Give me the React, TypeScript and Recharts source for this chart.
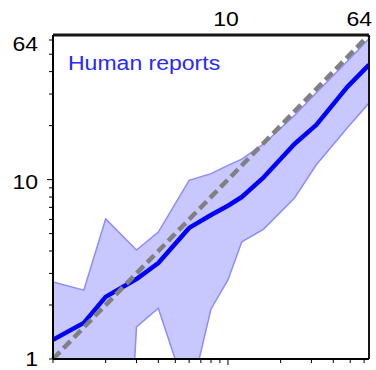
import React from 'react';
import { ComposedChart, Area, Line, XAxis, YAxis, ReferenceLine } from 'recharts';

const xs = [1, 1.5, 2, 3, 4, 6, 8, 10, 12, 16, 24, 32, 48, 64];
const meanVals = [1.28, 1.59, 2.22, 2.79, 3.43, 5.38, 6.35, 7.15, 8.0, 10.3, 15.8, 20.2, 32.8, 43.6];
const upperVals = [2.69, 2.42, 6.03, 4.05, 5.1, 9.9, 10.8, 12.0, 13.0, 15.8, 22.8, 30.5, 45.5, 61];
const lowerVals = [0.001, 0.001, 0.001, 1.51, 1.92, 0.58, 1.9, 2.76, 4.5, 5.3, 7.9, 12.1, 19.4, 26.7];
const xTicks = [1, 2, 3, 4, 5, 6, 7, 8, 9, 10, 20, 30, 40, 50, 60];
const yTicks = [1, 2, 3, 4, 5, 6, 7, 8, 9, 10, 20, 30, 40, 50, 60, 64];
const topTicks = [10, 64];
const leftLabels = [1, 10, 64];
const diagonal = [
  { x: 1, y: 1 },
  { x: 64, y: 64 },
];
const title = 'Human reports';

const data = xs.map((x, i) => ({ x, mean: meanVals[i], band: [lowerVals[i], upperVals[i]] }));

const FONT = 'Liberation Sans';
const SX = 1.18;

const BottomTick = (props: any) => {
  const { x, y, payload } = props;
  const v = payload.value;
  const len = v === 10 ? 6 : 4;
  return <line x1={x} x2={x} y1={y} y2={y + len} stroke="#000" strokeWidth={1} />;
};

const LeftTick = (props: any) => {
  const { x, y, payload } = props;
  const v = payload.value;
  const len = v === 10 ? 6 : 4;
  const showLabel = leftLabels.includes(v);
  const dy = v === 64 ? 10 : v === 10 ? 3 : 1;
  return (
    <g>
      {v !== 64 && <line x1={x} x2={x - len} y1={y} y2={y} stroke="#000" strokeWidth={1} />}
      {showLabel && (
        <text
          transform={`translate(${x - 15},${y + dy}) scale(${SX},1)`}
          textAnchor="end"
          dominantBaseline="central"
          style={{ fontFamily: FONT, fontSize: 19.5 }}
          fill="#000"
        >
          {v}
        </text>
      )}
    </g>
  );
};

const TopTick = (props: any) => {
  const { x, y, payload } = props;
  const v = payload.value;
  const is64 = v === 64;
  return (
    <text
      transform={`translate(${is64 ? x + 3 : x - 2},${y - 15}) scale(${SX},1)`}
      textAnchor={is64 ? 'end' : 'middle'}
      dominantBaseline="central"
      style={{ fontFamily: FONT, fontSize: 19.5 }}
      fill="#000"
    >
      {v}
    </text>
  );
};

export default function App() {
  return (
    <div style={{ position: 'absolute', left: 0, top: 0, width: 376, height: 370, background: '#fff', fontFamily: FONT }}>
      <ComposedChart width={376} height={370} data={data} margin={{ top: 0, right: 0, bottom: 0, left: 0 }}>
        <XAxis
          xAxisId="b"
          dataKey="x"
          type="number"
          scale="log"
          domain={[1, 64]}
          allowDataOverflow
          ticks={xTicks}
          tickSize={0}
          tickMargin={0}
          tickLine={false}
          tick={<BottomTick />}
          interval={0}
          height={11}
          axisLine={{ stroke: '#000', strokeWidth: 2 }}
        />
        <XAxis
          xAxisId="t"
          dataKey="x"
          orientation="top"
          type="number"
          scale="log"
          domain={[1, 64]}
          allowDataOverflow
          ticks={topTicks}
          tickSize={0}
          tickMargin={0}
          tickLine={false}
          tick={<TopTick />}
          interval={0}
          height={35}
          axisLine={{ stroke: '#141414', strokeWidth: 3 }}
        />
        <YAxis
          yAxisId="l"
          type="number"
          scale="log"
          domain={[1, 64]}
          allowDataOverflow
          ticks={yTicks}
          tickSize={0}
          tickMargin={0}
          tickLine={false}
          tick={<LeftTick />}
          interval={0}
          width={53}
          axisLine={{ stroke: '#000', strokeWidth: 2 }}
        />
        <YAxis
          yAxisId="r"
          orientation="right"
          type="number"
          scale="log"
          domain={[1, 64]}
          allowDataOverflow
          tick={false}
          tickLine={false}
          width={7}
          axisLine={{ stroke: '#141414', strokeWidth: 2 }}
        />
        <Area
          xAxisId="b"
          yAxisId="l"
          dataKey="band"
          type="linear"
          fill="#c8c8ff"
          fillOpacity={1}
          stroke="#8c8cff"
          strokeWidth={1.5}
          isAnimationActive={false}
          dot={false}
          activeDot={false}
        />
        <Line
          xAxisId="t"
          yAxisId="r"
          dataKey="mean"
          type="linear"
          stroke="#0000ff"
          strokeWidth={4.5}
          strokeLinejoin="round"
          dot={false}
          activeDot={false}
          isAnimationActive={false}
        />
        <ReferenceLine
          xAxisId="b"
          yAxisId="l"
          segment={diagonal}
          stroke="#808080"
          strokeWidth={4.5}
          strokeDasharray="10 5"
        />
      </ComposedChart>
      <div
        style={{
          position: 'absolute',
          left: 68,
          top: 50,
          fontFamily: FONT,
          fontSize: 19.5,
          lineHeight: '26px',
          color: '#2828ff',
          transform: `scaleX(${SX})`,
          transformOrigin: 'left top',
          whiteSpace: 'nowrap',
        }}
      >
        {title}
      </div>
    </div>
  );
}
